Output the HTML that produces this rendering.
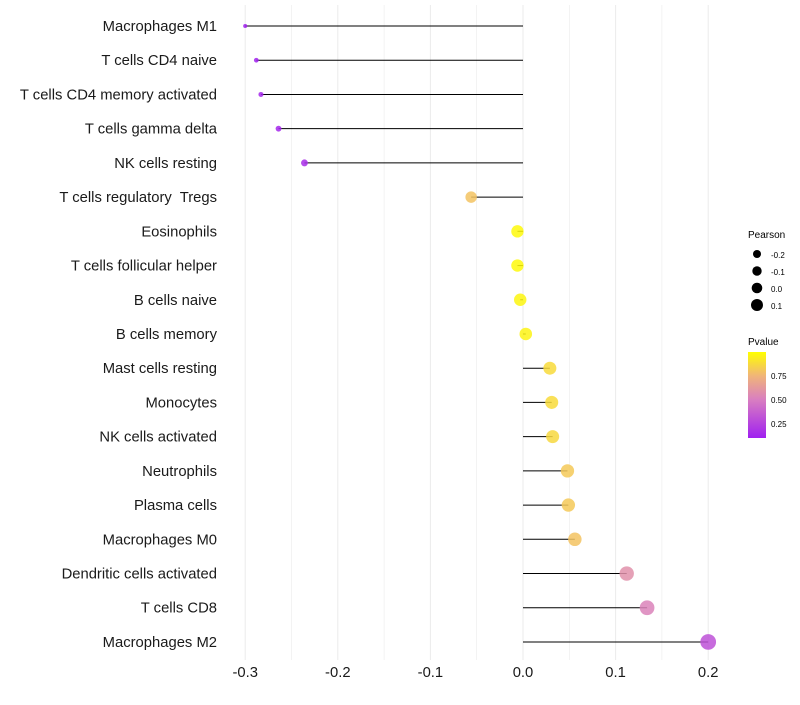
<!DOCTYPE html>
<html><head><meta charset="utf-8"><style>
body{margin:0;background:#fff;font-family:"Liberation Sans",sans-serif}
</style></head><body>
<svg id="chart" width="800" height="700" xmlns="http://www.w3.org/2000/svg" font-family="Liberation Sans, sans-serif">
<g id="grid"></g>
<g id="marks"></g>
<g id="ylab"></g>
<g id="xlab"></g>
<g>
<text x="748" y="238" font-size="10">Pearson</text>
<circle cx="757" cy="254" r="4" fill="#000"/><text x="771" y="258" font-size="8">-0.2</text>
<circle cx="757" cy="271" r="4.7" fill="#000"/><text x="771" y="275" font-size="8">-0.1</text>
<circle cx="757" cy="288" r="5.3" fill="#000"/><text x="771" y="292" font-size="8">0.0</text>
<circle cx="757" cy="305" r="6" fill="#000"/><text x="771" y="309" font-size="8">0.1</text>
</g>
<g>
<defs><linearGradient id="pg" x1="0" y1="1" x2="0" y2="0">
<stop offset="0" stop-color="#A020F0"/><stop offset="0.45" stop-color="#D97FC0"/><stop offset="0.72" stop-color="#F0B47A"/><stop offset="1" stop-color="#FFFF00"/></linearGradient></defs>
<text x="748" y="345" font-size="10">Pvalue</text>
<rect x="748" y="352" width="18" height="86" fill="url(#pg)"/>
<text x="771" y="379" font-size="8">0.75</text>
<text x="771" y="403" font-size="8">0.50</text>
<text x="771" y="427" font-size="8">0.25</text>
</g>
</svg>
<script>
const categories=["Macrophages M1","T cells CD4 naive","T cells CD4 memory activated","T cells gamma delta","NK cells resting","T cells regulatory  Tregs","Eosinophils","T cells follicular helper","B cells naive","B cells memory","Mast cells resting","Monocytes","NK cells activated","Neutrophils","Plasma cells","Macrophages M0","Dendritic cells activated","T cells CD8","Macrophages M2"];
const pearson=[-0.300,-0.288,-0.283,-0.264,-0.236,-0.056,-0.006,-0.006,-0.003,0.003,0.029,0.031,0.032,0.048,0.049,0.056,0.112,0.134,0.200];
const pvalues=[0.10,0.10,0.12,0.12,0.15,0.80,0.98,0.98,0.97,0.96,0.88,0.88,0.87,0.82,0.82,0.80,0.58,0.52,0.30];
const xTicks=[-0.3,-0.2,-0.1,0.0,0.1,0.2];
const NS="http://www.w3.org/2000/svg";
const x=v=>523+(v)*926;
const y=i=>26+i*34.22;
function col(p){const s=[[0.09,[160,32,240]],[0.5,[217,127,192]],[0.75,[240,180,122]],[1.0,[255,255,0]]];
 p=Math.max(0.09,Math.min(1,p));for(let k=0;k<s.length-1;k++){if(p<=s[k+1][0]){const t=(p-s[k][0])/(s[k+1][0]-s[k][0]);const c=s[k][1].map((a,j)=>Math.round(a+(s[k+1][1][j]-a)*t));return`rgb(${c})`;}}return"#ff0";}
const rad=v=>Math.sqrt(3+(v+0.3)/0.5*54)+0.3;
function mk(t,a,p){const e=document.createElementNS(NS,t);for(const k in a)e.setAttribute(k,a[k]);p.appendChild(e);return e;}
const grid=document.getElementById('grid'),marks=document.getElementById('marks'),yl=document.getElementById('ylab'),xl=document.getElementById('xlab');
for(let v=-0.3;v<=0.2001;v+=0.05){const l=mk('line',{x1:x(v),x2:x(v),y1:5,y2:660,stroke:'#ebebeb','stroke-width':Math.abs(Math.round(v*20))%2?0.6:1},grid);

}
categories.forEach((c,i)=>{
 const l=mk('line',{x1:x(0),x2:x(pearson[i]),y1:y(i),y2:y(i),stroke:'#000','stroke-width':1},marks);
 
 
 const d=mk('circle',{cx:x(pearson[i]),cy:y(i),r:rad(pearson[i]),fill:col(pvalues[i]),'fill-opacity':0.85},marks);
 
 
 const t=mk('text',{x:217,y:y(i)+5,'text-anchor':'end','font-size':14.8,fill:'#1a1a1a'},yl);
 t.setAttribute('xml:space','preserve');
 t.style.whiteSpace='pre';
 t.textContent=c;
 
 
});
xTicks.forEach(v=>{const t=mk('text',{x:x(v),y:677,'text-anchor':'middle','font-size':14.8,fill:'#1a1a1a'},xl);t.textContent=v.toFixed(1);
 
 });
</script>
</body></html>
